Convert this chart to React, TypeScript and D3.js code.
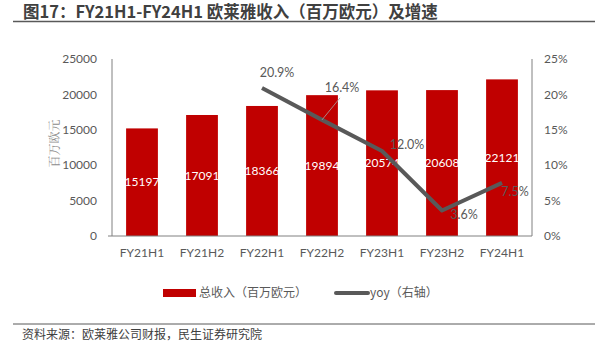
import React, { useEffect, useRef } from "react";
import * as d3 from "d3";

const categories = ["FY21H1", "FY21H2", "FY22H1", "FY22H2", "FY23H1", "FY23H2", "FY24H1"];
const revenue = [15197, 17091, 18366, 19894, 20574, 20608, 22121];
// yoy only reported from FY22H1
const yoy = [null, null, 0.209, 0.164, 0.12, 0.036, 0.075];
const yoyLabels = ["", "", "20.9%", "16.4%", "12.0%", "3.6%", "7.5%"];
const leftTicks = [0, 5000, 10000, 15000, 20000, 25000];
const rightTicks = [0, 0.05, 0.1, 0.15, 0.2, 0.25];

const W = 595;
const H = 352;
const latin = "Lato, 'Noto Sans CJK SC', sans-serif";
const cjk = "'Noto Sans CJK SC', sans-serif";

const App = () => {
  const ref = useRef<SVGSVGElement>(null);

  useEffect(() => {
    const svg = d3.select(ref.current);
    svg.selectAll("*").remove();

    const margin = { top: 59, left: 112, right: 63, bottom: 116 };
    const innerW = W - margin.left - margin.right;
    const innerH = H - margin.top - margin.bottom;

    // Title + rule
    svg.append("text")
      .attr("x", 23).attr("y", 17.5)
      .attr("font-family", cjk).attr("font-weight", "bold")
      .attr("font-size", 16.5).attr("fill", "#404040")
      .text("图17：FY21H1-FY24H1 欧莱雅收入（百万欧元）及增速");
    svg.append("line")
      .attr("x1", 13).attr("x2", 595).attr("y1", 21.5).attr("y2", 21.5)
      .attr("stroke", "#595959").attr("stroke-width", 1.5);

    const g = svg.append("g").attr("transform", `translate(${margin.left},${margin.top})`);

    const x = d3.scaleBand().domain(categories).range([0, innerW]).paddingInner(0.47).paddingOuter(0.235);
    const y = d3.scaleLinear().domain([0, 25000]).range([innerH, 0]);
    const y2 = d3.scaleLinear().domain([0, 0.25]).range([innerH, 0]);

    // bars
    g.selectAll(".bar")
      .data(revenue)
      .enter()
      .append("rect")
      .attr("class", "bar")
      .attr("x", (_, i) => x(categories[i])!)
      .attr("y", d => y(d))
      .attr("width", x.bandwidth())
      .attr("height", d => innerH - y(d))
      .attr("fill", "#C00000");

    g.selectAll(".bar-label")
      .data(revenue)
      .enter()
      .append("text")
      .attr("x", (_, i) => x(categories[i])! + x.bandwidth() / 2)
      .attr("y", d => (y(d) + innerH) / 2)
      .attr("dy", "0.35em")
      .attr("text-anchor", "middle")
      .attr("font-family", latin).attr("font-size", 12)
      .attr("fill", "#fff")
      .text(d => d);

    // axes
    const axisColor = "#808080";
    g.append("line").attr("x1", 0).attr("x2", 0).attr("y1", 0).attr("y2", innerH)
      .attr("stroke", axisColor);
    g.append("line").attr("x1", 0).attr("x2", innerW).attr("y1", innerH).attr("y2", innerH)
      .attr("stroke", axisColor);
    g.append("line").attr("x1", innerW).attr("x2", innerW).attr("y1", 0).attr("y2", innerH)
      .attr("stroke", axisColor);
    g.append("line").attr("x1", -4).attr("x2", 0).attr("y1", innerH).attr("y2", innerH)
      .attr("stroke", axisColor);

    g.selectAll(".ly")
      .data(leftTicks)
      .enter()
      .append("text")
      .attr("x", -15).attr("y", d => y(d)).attr("dy", "0.35em")
      .attr("text-anchor", "end")
      .attr("font-family", latin).attr("font-size", 12).attr("fill", "#595959")
      .text(d => d);

    g.selectAll(".ry")
      .data(rightTicks)
      .enter()
      .append("text")
      .attr("x", innerW + 12).attr("y", d => y2(d)).attr("dy", "0.35em")
      .attr("text-anchor", "start")
      .attr("font-family", latin).attr("font-size", 12).attr("fill", "#595959")
      .text(d => d3.format(".0%")(d));

    g.selectAll(".xl")
      .data(categories)
      .enter()
      .append("text")
      .attr("x", d => x(d)! + x.bandwidth() / 2).attr("y", innerH + 17).attr("dy", "0.35em")
      .attr("text-anchor", "middle")
      .attr("font-family", latin).attr("font-size", 12).attr("fill", "#595959")
      .text(d => d);

    svg.append("text")
      .attr("transform", `translate(55,${margin.top + innerH / 2 - 4}) rotate(-90)`)
      .attr("text-anchor", "middle").attr("dy", "0.35em")
      .attr("font-family", "'Noto Serif CJK SC', 'Noto Sans CJK SC', serif")
      .attr("font-size", 12).attr("fill", "#8c8c8c")
      .text("百万欧元");

    // yoy line
    const pts = yoy
      .map((v, i) => ({ v, c: categories[i], label: yoyLabels[i] }))
      .filter(d => d.v !== null) as { v: number; c: string; label: string }[];
    const cx = (c: string) => x(c)! + x.bandwidth() / 2;
    const line = d3.line<{ v: number; c: string }>()
      .x(d => cx(d.c))
      .y(d => y2(d.v));
    g.append("path")
      .datum(pts)
      .attr("d", line)
      .attr("fill", "none")
      .attr("stroke", "#595959")
      .attr("stroke-width", 4)
      .attr("stroke-linejoin", "round");

    // label offsets (as placed in the source chart)
    const offs: Record<string, [number, number]> = {
      FY22H1: [15, -15],
      FY22H2: [20, -32],
      FY23H1: [25, -6],
      FY23H2: [22, 4],
      FY24H1: [13, 9],
    };
    // leader line for 16.4%
    const p164 = pts.find(d => d.c === "FY22H2")!;
    g.append("line")
      .attr("x1", cx(p164.c)).attr("y1", y2(p164.v))
      .attr("x2", cx(p164.c) + 18).attr("y2", y2(p164.v) - 22)
      .attr("stroke", "#a6a6a6").attr("stroke-width", 0.8);

    g.selectAll(".yoy-label")
      .data(pts)
      .enter()
      .append("text")
      .attr("x", d => cx(d.c) + offs[d.c][0])
      .attr("y", d => y2(d.v) + offs[d.c][1])
      .attr("dy", "0.35em")
      .attr("text-anchor", "middle")
      .attr("font-family", latin).attr("font-size", 12.5).attr("fill", "#595959")
      .text(d => d.label);

    // legend
    const lg = svg.append("g").attr("transform", "translate(0,293)");
    lg.append("rect").attr("x", 163).attr("y", -4).attr("width", 33).attr("height", 8).attr("fill", "#C00000");
    lg.append("text").attr("x", 199).attr("y", 0).attr("dy", "0.35em")
      .attr("font-family", cjk).attr("font-size", 12).attr("fill", "#595959")
      .text("总收入（百万欧元）");
    lg.append("line").attr("x1", 336).attr("x2", 368).attr("y1", 0).attr("y2", 0)
      .attr("stroke", "#595959").attr("stroke-width", 4).attr("stroke-linecap", "round");
    lg.append("text").attr("x", 370).attr("y", 0).attr("dy", "0.35em")
      .attr("font-family", cjk).attr("font-size", 12).attr("fill", "#595959")
      .text("yoy（右轴）");

    // footer
    svg.append("line")
      .attr("x1", 13).attr("x2", 595).attr("y1", 324).attr("y2", 324)
      .attr("stroke", "#595959").attr("stroke-width", 1);
    svg.append("text")
      .attr("x", 22).attr("y", 335).attr("dy", "0.35em")
      .attr("font-family", cjk).attr("font-size", 12).attr("fill", "#404040")
      .text("资料来源：欧莱雅公司财报，民生证券研究院");
  }, []);

  return (
    <svg
      ref={ref}
      width={W}
      height={H}
      style={{ position: "absolute", left: 0, top: 0, background: "#fff" }}
    />
  );
};

export default App;
